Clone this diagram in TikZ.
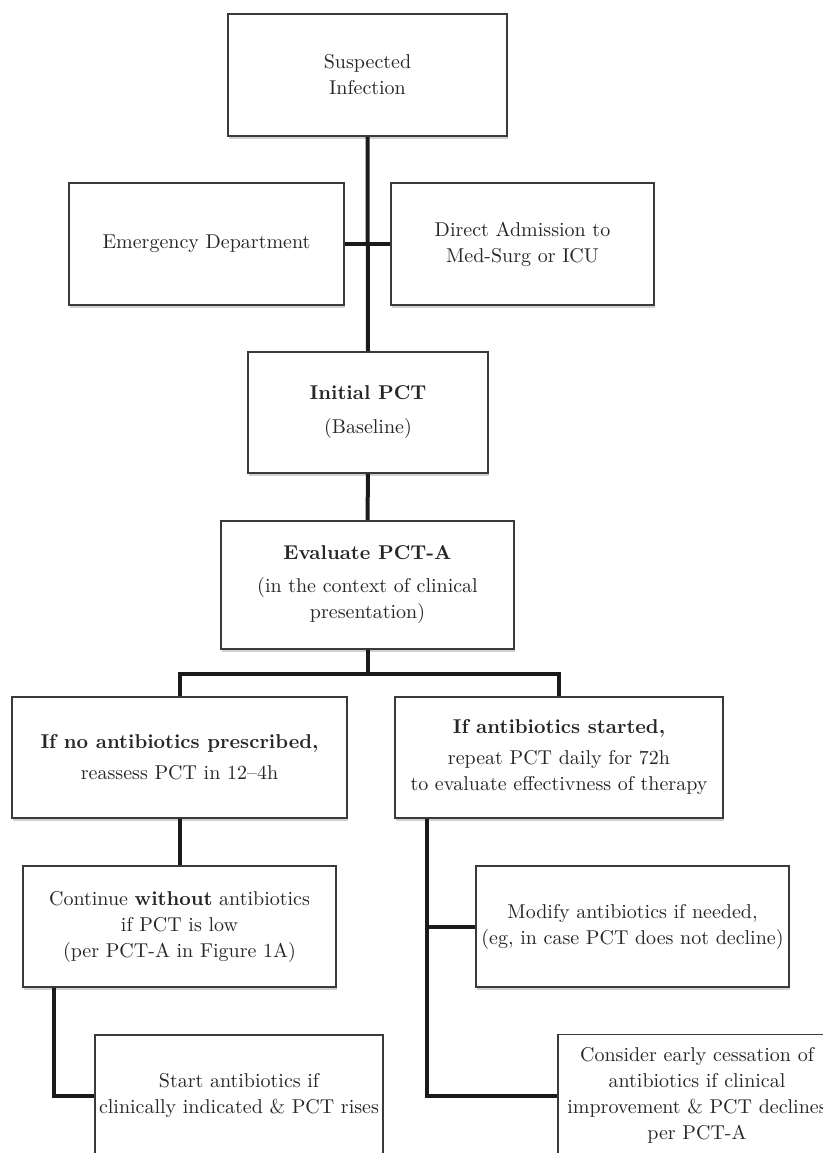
\documentclass[tikz,border=0pt]{standalone}
\usetikzlibrary{shadows}
\definecolor{box-gray}{RGB}{58,58,58}
\definecolor{link-black}{RGB}{26,26,26}
\tikzset{
  flowbox/.style={draw=box-gray, line width=0.8pt, fill=white, align=center, inner sep=2pt,
    font=\fontsize{10}{13}\selectfont, text=black!85,
    drop shadow={shadow xshift=0.6pt, shadow yshift=-1.4pt, fill=black!40, opacity=0.45}},
  link/.style={draw=link-black, line width=2pt}
}

\begin{document}
\begin{tikzpicture}[x=0.5pt,y=-0.5pt]
\useasboundingbox (0,0) rectangle (823,1153);
\clip (0,0) rectangle (823,1153);
% top of the chart
\node[flowbox, minimum width=139.5pt, minimum height=61pt] (susp) at (367.5,75) {Suspected\\Infection};
\node[flowbox, minimum width=137.5pt, minimum height=61pt] (ed) at (206.5,244) {Emergency Department};
\node[flowbox, minimum width=131.5pt, minimum height=61pt] (direct) at (522.5,244) {Direct Admission to\\Med-Surg or ICU};
\node[flowbox, minimum width=120pt, minimum height=60.5pt] (initial) at (368,412.5) {\textbf{Initial PCT}\\[4pt](Baseline)};
\node[flowbox, minimum width=146.5pt, minimum height=64pt] (eval) at (367.5,585) {\textbf{Evaluate PCT-A}\\[3.5pt](in the context of clinical\\presentation)};
% two branches
\node[flowbox, minimum width=167.5pt, minimum height=60.5pt] (noabx) at (179.5,757.5) {\textbf{If no antibiotics prescribed,}\\[2.5pt]reassess PCT in 12\textendash4h};
\node[flowbox, minimum width=164pt, minimum height=60.5pt] (abx) at (559,757.5) {\textbf{If antibiotics started,}\\[2.5pt]repeat PCT daily for 72h\\to evaluate effectivness of therapy};
\node[flowbox, minimum width=156.5pt, minimum height=60.5pt] (cont) at (179.5,926.5) {Continue \textbf{without} antibiotics\\if PCT is low\\(per PCT-A in Figure 1A)};
\node[flowbox, minimum width=156.5pt, minimum height=60.5pt] (modify) at (632.5,926.5) {Modify antibiotics if needed,\\(eg, in case PCT does not decline)};
\node[flowbox, minimum width=139pt, minimum height=60.5pt] (start) at (239,1095.5) {Start antibiotics if\\clinically indicated \& PCT rises};
\node[flowbox, minimum width=139pt, minimum height=61pt] (cons) at (697,1095.5) {Consider early cessation of\\antibiotics if clinical\\improvement \& PCT declines\\per PCT-A};
% connectors
\draw[link] (susp.south) -- (initial.north);
\draw[link] (ed.east) -- (direct.west);
\draw[link] (initial.south) -- (eval.north);
\draw[link] (eval.south) -- ++(0,24) coordinate (split);
\draw[link] (noabx.north) |- (split) -| (abx.north);
\draw[link] (noabx.south) -- (cont.north);
\draw[link] ([xshift=16pt]cont.south west) |- (start.west);
\coordinate (abxfoot) at ([xshift=16.5pt]abx.south west);
\draw[link] (abxfoot) |- (cons.west);
\draw[link] (modify.west) -- (modify.west -| abxfoot);
\end{tikzpicture}
\end{document}
